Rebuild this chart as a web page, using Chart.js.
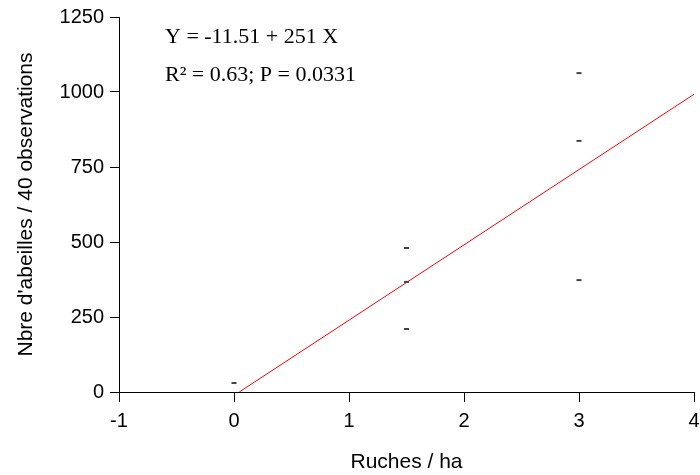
<!DOCTYPE html>
<html>
<head>
<meta charset="utf-8">
<script src="https://cdn.jsdelivr.net/npm/chart.js@4.4.0/dist/chart.umd.min.js"></script>
<style>
  html, body { margin: 0; padding: 0; background: #fff; }
  #wrap { width: 700px; height: 475px; }
</style>
</head>
<body>
<div id="wrap"><canvas id="chart"></canvas></div>
<script>
// observations (ruches / ha, abeilles)
const hivesX = [0, 1.5, 1.5, 1.5, 3, 3, 3];
const beesY = [30, 480, 367, 210, 1063, 837, 373];

// regression fit
const intercept = -11.51;
const slope = 251;
const fitRange = [-intercept / slope, 4];

const xTicks = [-1, 0, 1, 2, 3, 4];
const yTicks = [0, 250, 500, 750, 1000, 1250];

const points = hivesX.map((x, i) => ({ x: x, y: beesY[i] }));
const fitLine = fitRange.map(x => ({ x: x, y: intercept + slope * x }));

// draws the equation text in the upper left
const equationText = {
    id: 'equationText',
    afterDraw(chart) {
        const ctx = chart.ctx;
        ctx.save();
        ctx.fillStyle = '#000';
        ctx.font = '22px "Liberation Serif", "Times New Roman", serif';
        ctx.textBaseline = 'alphabetic';
        ctx.fillText('Y = -11.51 + 251 X', 165, 43);
        ctx.fillText('R\u00b2 = 0.63; P = 0.0331', 165, 81);
        ctx.restore();
    }
};

const tickFont = { family: '"Liberation Sans", Arial, sans-serif', size: 20 };
const titleFont = { family: '"Liberation Sans", Arial, sans-serif', size: 21 };

new Chart(document.getElementById('chart'), {
    type: 'scatter',
    data: {
        datasets: [
            {
                data: points,
                pointStyle: 'line',
                pointRadius: 2.5,
                borderColor: '#444',
                backgroundColor: '#444',
                pointBorderWidth: 2
            },
            {
                type: 'line',
                data: fitLine,
                borderColor: '#ff0000',
                borderWidth: 1,
                pointRadius: 0,
                fill: false
            }
        ]
    },
    options: {
        responsive: true,
        maintainAspectRatio: false,
        animation: false,
        layout: { padding: { top: 17, right: -3, left: 0, bottom: 0 } },
        plugins: { legend: { display: false }, tooltip: { enabled: false } },
        scales: {
            x: {
                type: 'linear',
                min: -1,
                max: 4,
                afterBuildTicks: s => { s.ticks = xTicks.map(v => ({ value: v })); },
                afterFit: s => { s.height = 83; s.paddingLeft = 0; s.paddingRight = 0; },
                ticks: { color: '#000', font: tickFont, padding: 7, maxRotation: 0, callback: v => String(v) },
                grid: { drawOnChartArea: false, tickLength: 10, tickColor: '#000' },
                border: { color: '#000', width: 1 },
                title: { display: true, text: 'Ruches / ha', color: '#000', font: titleFont, padding: { top: 10, bottom: 0 } }
            },
            y: {
                min: 0,
                max: 1250,
                afterBuildTicks: s => { s.ticks = yTicks.map(v => ({ value: v })); },
                afterFit: s => { s.width = 119; s.paddingTop = 0; s.paddingBottom = 0; },
                ticks: { color: '#000', font: tickFont, padding: 6, callback: v => String(v) },
                grid: { drawOnChartArea: false, tickLength: 9, tickColor: '#000' },
                border: { color: '#000', width: 1 },
                title: { display: true, text: "Nbre d'abeilles / 40 observations", color: '#000', font: titleFont, padding: { top: 14, bottom: 0 } }
            }
        }
    },
    plugins: [equationText]
});
</script>
</body>
</html>
